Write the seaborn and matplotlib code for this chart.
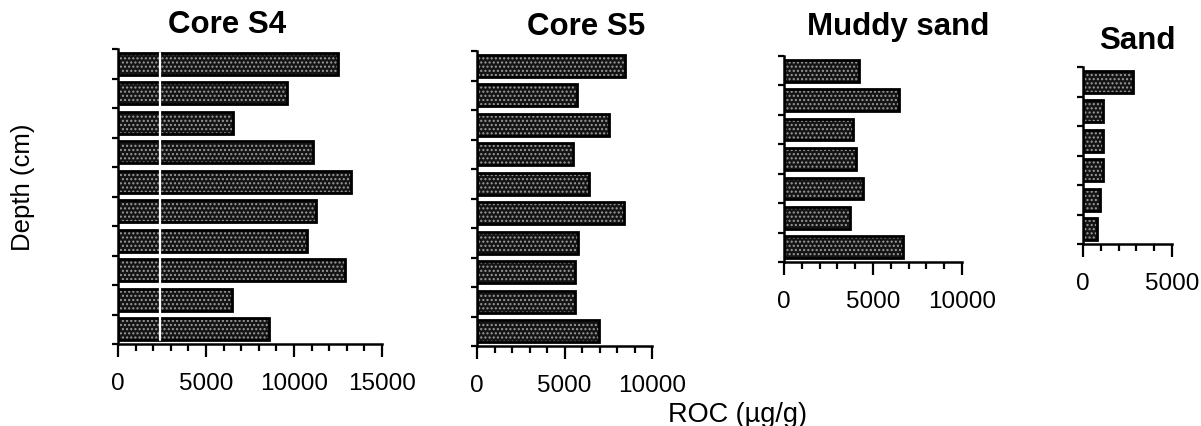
import numpy as np
import pandas as pd
import matplotlib
matplotlib.use("Agg")
import matplotlib.pyplot as plt
from matplotlib.ticker import MultipleLocator, FixedLocator, NullFormatter
import seaborn as sns

# ---- data (ROC, ug/g), top bar first ----
core_s4 = [12500, 9600, 6550, 11100, 13230, 11240, 10750, 12900, 6490, 8590]
core_s5 = [8460, 5700, 7540, 5490, 6400, 8400, 5770, 5600, 5600, 6970]
muddy_sand = [4220, 6460, 3880, 4050, 4440, 3710, 6690]
sand = [2810, 1120, 1120, 1100, 950, 780]

titles = ["Core S4", "Core S5", "Muddy sand", "Sand"]
x_limits = [15000, 10000, 10000, 5000]
x_major = [[0, 5000, 10000, 15000], [0, 5000, 10000], [0, 5000, 10000], [0, 5000]]
y_label = "Depth (cm)"
x_label = "ROC (\u00b5g/g)"

sns.set_theme(style="ticks")
plt.rcParams["font.family"] = ["Liberation Sans", "DejaVu Sans"]

W, H = 1201, 427
fig = plt.figure(figsize=(W / 100, H / 100), dpi=100)

# axes boxes in pixels: left, right(x at max), top, bottom
boxes = [
    (118, 382, 50, 345),
    (477, 652, 52, 347),
    (784, 962, 57, 263),
    (1083, 1172, 68, 245),
]
title_pos = [(227, 25), (586, 27), (898, 27), (1137, 41)]

datasets = [core_s4, core_s5, muddy_sand, sand]

for i, (vals, box) in enumerate(zip(datasets, boxes)):
    l, r, t, b = box
    ax = fig.add_axes([l / W, (H - b) / H, (r - l) / W, (b - t) / H])
    df = pd.DataFrame({"depth": [str(k) for k in range(len(vals))], "roc": vals})
    # stippled fill
    sns.barplot(data=df, x="roc", y="depth", orient="h", ax=ax, width=0.74,
                color="#141414", saturation=1, linewidth=0, edgecolor="#9c9c9c",
                hatch="....")
    for p in ax.patches:
        p.set_edgecolor("#9c9c9c")
        p.set_linewidth(0)
        p.set_hatch("....")
    # black outline
    sns.barplot(data=df, x="roc", y="depth", orient="h", ax=ax, width=0.74,
                fill=False, color="black", linewidth=2.0)
    n = len(vals)
    ax.set_xlim(0, x_limits[i])
    ax.set_ylim(n - 0.5, -0.5)
    ax.yaxis.set_major_locator(FixedLocator(np.arange(n + 1) - 0.5))
    ax.yaxis.set_major_formatter(NullFormatter())
    ax.xaxis.set_major_locator(FixedLocator(x_major[i]))
    ax.xaxis.set_minor_locator(MultipleLocator(1000))
    ax.set_xlabel("")
    ax.set_ylabel("")
    for s in ["top", "right"]:
        ax.spines[s].set_visible(False)
    for s in ["left", "bottom"]:
        ax.spines[s].set_linewidth(1.8)
        ax.spines[s].set_color("black")
    ax.tick_params(axis="x", which="major", length=9.5, width=1.6, pad=11,
                   labelsize=17.5, direction="out", colors="black")
    ax.tick_params(axis="x", which="minor", length=5, width=1.6, direction="out",
                   colors="black")
    ax.tick_params(axis="y", which="major", length=4.5, width=1.6, direction="out",
                   colors="black")
    ax.set_facecolor("white")
    if i == 0:
        ax.axvline(2400, ymin=0.015, ymax=0.985, color="white", lw=1.6)
    tx, ty = title_pos[i]
    fig.text(tx / W, 1 - ty / H, titles[i], ha="center", va="center",
             fontsize=22.5, fontweight="bold", color="black")

fig.text(23 / W, 1 - 187 / H, y_label, rotation=90, ha="center", va="center",
         fontsize=18.5, color="black")
fig.text(737 / W, 1 - 415 / H, x_label, ha="center", va="center",
         fontsize=19.5, color="black")

fig.savefig("out.png", dpi=100, facecolor="white")
